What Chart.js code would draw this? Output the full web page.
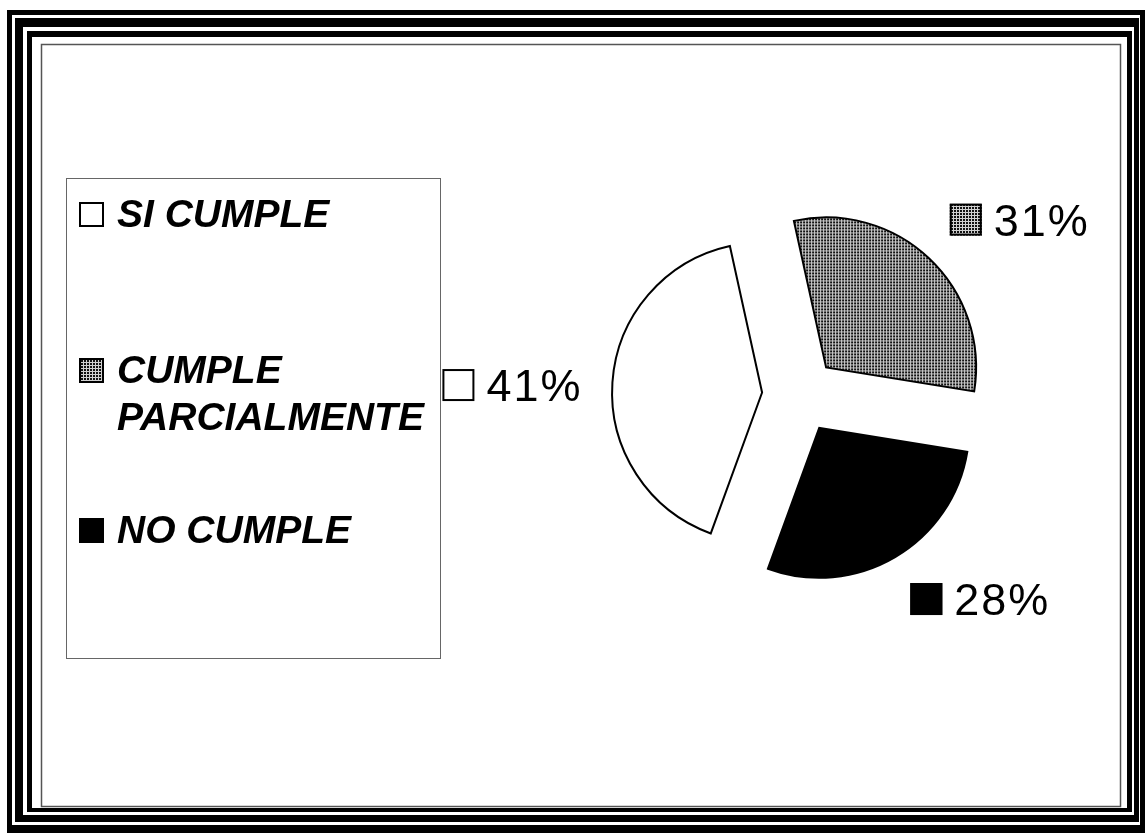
<!DOCTYPE html>
<html>
<head>
<meta charset="utf-8">
<title>Cumplimiento</title>
<script src="https://cdn.jsdelivr.net/npm/chart.js@4.4.1/dist/chart.umd.min.js"></script>
<style>
  html, body { margin: 0; padding: 0; background: #fff; }
  canvas { display: block; }
</style>
</head>
<body>
<canvas id="chart" width="1145" height="834"></canvas>
<script>
// Categories and their shares (percent)
const categories = ['SI CUMPLE', 'CUMPLE PARCIALMENTE', 'NO CUMPLE'];
const legendLines = [['SI CUMPLE'], ['CUMPLE', 'PARCIALMENTE'], ['NO CUMPLE']];
const shares = [41, 31, 28];

const FONT = '"Liberation Sans", Arial, Helvetica, sans-serif';
const EXPLODE = 38;          // distance each slice is pulled out of the pie
const LABEL_GAP = 30;        // gap between slice edge and its value label

// Small grid fill (dark squares separated by thin light lines)
function gridPattern() {
  const tile = document.createElement('canvas');
  tile.width = 3; tile.height = 3;
  const g = tile.getContext('2d');
  g.fillStyle = '#d0d0d0';
  g.fillRect(0, 0, 3, 3);
  g.fillStyle = '#111111';
  g.fillRect(0, 0, 2, 2);
  return g.createPattern(tile, 'repeat');
}
const grid = gridPattern();
const fills = ['#ffffff', grid, '#000000'];

// Triple-line page frame plus the thin inner rule
const framePlugin = {
  id: 'frame',
  beforeDraw(chart) {
    const ctx = chart.ctx;
    ctx.save();
    ctx.fillStyle = '#fff';
    ctx.fillRect(0, 0, chart.width, chart.height);
    const bands = [
      [[7, 10, 1145, 833], [12, 15, 1140, 825]],
      [[15, 18, 1139, 822], [23, 27, 1134, 815]],
      [[27, 31, 1132, 812], [32, 37, 1127, 808]]
    ];
    bands.forEach(([o, i]) => {
      ctx.fillStyle = '#000';
      ctx.fillRect(o[0], o[1], o[2] - o[0], o[3] - o[1]);
      ctx.fillStyle = '#fff';
      ctx.fillRect(i[0], i[1], i[2] - i[0], i[3] - i[1]);
    });
    ctx.strokeStyle = '#555';
    ctx.lineWidth = 1.5;
    ctx.strokeRect(41.5, 44.5, 1079, 762);
    ctx.restore();
  }
};

// Pull every slice outward along its bisector
const explodePlugin = {
  id: 'explode',
  beforeDatasetDraw(chart, args) {
    const ctx = chart.ctx;
    args.meta.data.forEach(arc => {
      const mid = (arc.startAngle + arc.endAngle) / 2;
      ctx.save();
      ctx.translate(Math.cos(mid) * EXPLODE, Math.sin(mid) * EXPLODE);
      arc.draw(ctx);
      ctx.restore();
    });
    return false;
  }
};

function drawKey(ctx, x, y, size, fill, lw) {
  ctx.fillStyle = fill;
  ctx.fillRect(x, y, size, size);
  ctx.strokeStyle = '#000';
  ctx.lineWidth = lw;
  ctx.strokeRect(x + lw / 2, y + lw / 2, size - lw, size - lw);
}

// Value labels with a key square, placed just outside each slice
const valueLabelPlugin = {
  id: 'valueLabels',
  afterDatasetsDraw(chart) {
    const ctx = chart.ctx;
    const meta = chart.getDatasetMeta(0);
    const data = chart.data.datasets[0].data;
    const total = data.reduce((a, b) => a + b, 0);
    ctx.save();
    ctx.font = '45px ' + FONT;
    if ('letterSpacing' in ctx) ctx.letterSpacing = '2px';
    ctx.textBaseline = 'alphabetic';
    ctx.textAlign = 'left';
    const side = v => (Math.abs(v) < 0.3 ? 0 : Math.sign(v));
    meta.data.forEach((arc, i) => {
      const mid = (arc.startAngle + arc.endAngle) / 2;
      const c = Math.cos(mid), s = Math.sin(mid);
      const d = EXPLODE + arc.outerRadius + LABEL_GAP;
      const px = arc.x + c * d, py = arc.y + s * d;
      const text = Math.round(data[i] / total * 100) + '%';
      const key = 32, gap = 12;
      const w = key + gap + ctx.measureText(text).width;
      const h = 33;
      const cx = px + side(c) * w / 2;
      const cy = py + (side(s) === 0 ? 5 : side(s) * h / 2);
      const left = cx - w / 2, top = cy - h / 2;
      drawKey(ctx, left, top, key, fills[i], 2);
      ctx.fillStyle = '#000';
      ctx.fillText(text, left + key + gap, top + h - 1);
    });
    ctx.restore();
  }
};

// Boxed legend on the left
const legendPlugin = {
  id: 'boxLegend',
  afterDraw(chart) {
    const ctx = chart.ctx;
    ctx.save();
    ctx.strokeStyle = '#666';
    ctx.lineWidth = 1;
    ctx.strokeRect(66.5, 178.5, 374, 480);
    ctx.font = 'italic bold 39px ' + FONT;
    ctx.textBaseline = 'alphabetic';
    ctx.textAlign = 'left';
    const baselines = [227, 383, 543];
    legendLines.forEach((lines, i) => {
      const b = baselines[i];
      drawKey(ctx, 79, b - 25, 25, fills[i], 2);
      ctx.fillStyle = '#000';
      lines.forEach((ln, k) => ctx.fillText(ln, 117, b + k * 47));
    });
    ctx.restore();
  }
};

new Chart(document.getElementById('chart'), {
  type: 'pie',
  data: {
    labels: categories,
    datasets: [{
      data: shares,
      backgroundColor: fills,
      borderColor: '#000',
      borderWidth: 2,
      borderJoinStyle: 'miter',
      offset: 0
    }]
  },
  options: {
    responsive: false,
    animation: false,
    rotation: 200,
    radius: 150,
    layout: { padding: { left: 600, right: 145, top: 200, bottom: 244 } },
    plugins: {
      legend: { display: false },
      tooltip: { enabled: false },
      title: { display: false }
    }
  },
  plugins: [framePlugin, explodePlugin, valueLabelPlugin, legendPlugin]
});
</script>
</body>
</html>
